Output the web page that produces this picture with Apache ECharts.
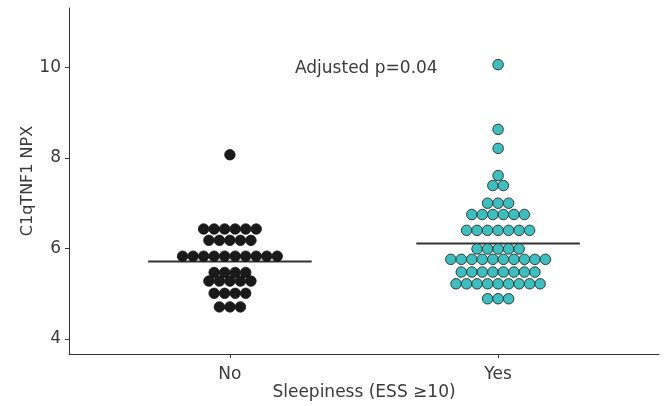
<!DOCTYPE html>
<html>
<head>
<meta charset="utf-8">
<script src="https://cdn.jsdelivr.net/npm/echarts@6/dist/echarts.min.js"></script>
<style>html,body{margin:0;padding:0;background:#fff}#c{width:667px;height:406px}</style>
</head>
<body>
<div id="c"></div>
<script>
var categories = ['No', 'Yes'];
var yTicks = [4, 6, 8, 10];
var noValues = [
  8.07,
  6.43, 6.43, 6.43, 6.43, 6.43, 6.43,
  6.18, 6.18, 6.18, 6.18, 6.18,
  5.83, 5.83, 5.83, 5.83, 5.83, 5.83, 5.83, 5.83, 5.83, 5.83,
  5.47, 5.47, 5.47, 5.47,
  5.28, 5.28, 5.28, 5.28, 5.28,
  5.01, 5.01, 5.01, 5.01,
  4.71, 4.71, 4.71
];
var yesValues = [
  10.06, 8.63, 8.21, 7.61,
  7.39, 7.39,
  7.00, 7.00, 7.00,
  6.75, 6.75, 6.75, 6.75, 6.75, 6.75,
  6.40, 6.40, 6.40, 6.40, 6.40, 6.40, 6.40,
  5.99, 5.99, 5.99, 5.99, 5.99,
  5.76, 5.76, 5.76, 5.76, 5.76, 5.76, 5.76, 5.76, 5.76, 5.76,
  5.48, 5.48, 5.48, 5.48, 5.48, 5.48, 5.48, 5.48,
  5.22, 5.22, 5.22, 5.22, 5.22, 5.22, 5.22, 5.22, 5.22,
  4.89, 4.89, 4.89
];
var summaryValues = [5.71, 6.11];
var annotation = 'Adjusted p=0.04';

// layout: centered stacking of equal values (dotplot)
var DOT_STEP = 0.0392;
function swarm(values, center) {
  var groups = {};
  values.forEach(function (v) { (groups[v] = groups[v] || []).push(v); });
  var out = [];
  Object.keys(groups).forEach(function (k) {
    var g = groups[k], n = g.length;
    g.forEach(function (v, i) { out.push([center + (i - (n - 1) / 2) * DOT_STEP, v]); });
  });
  return out;
}
var HALF = 0.305;
var textColor = '#3a3a3a';
var font = 'DejaVu Sans';

var chart = echarts.init(document.getElementById('c'), null, {renderer: 'canvas'});
chart.setOption({
  animation: false,
  grid: {left: 69, right: 8, top: 8, bottom: 52, containLabel: false},
  xAxis: {
    type: 'value', min: 0.4, max: 2.6,
    name: 'Sleepiness (ESS ≥10)', nameLocation: 'middle', nameGap: 30, nameMoveOverlap: false,
    nameTextStyle: {color: textColor, fontSize: 17, fontFamily: font},
    axisLine: {show: true, lineStyle: {color: '#333', width: 1}},
    axisTick: {show: true, length: 4, customValues: [1, 2], lineStyle: {color: '#333'}},
    axisLabel: {customValues: [1, 2], margin: 12, color: textColor, fontSize: 17, fontFamily: font,
      formatter: function (v) { return categories[Math.round(v) - 1]; }},
    splitLine: {show: false}
  },
  yAxis: {
    type: 'value', min: 3.67, max: 11.31,
    name: 'C1qTNF1 NPX', nameLocation: 'middle', nameGap: 33, nameRotate: 90, nameMoveOverlap: false,
    nameTextStyle: {color: textColor, fontSize: 16, fontFamily: font},
    axisLine: {show: true, lineStyle: {color: '#333', width: 1}},
    axisTick: {show: true, length: 4, customValues: yTicks, lineStyle: {color: '#333'}},
    axisLabel: {customValues: yTicks, margin: 8, color: textColor, fontSize: 17, fontFamily: font},
    splitLine: {show: false}
  },
  series: [
    {type: 'scatter', data: swarm(noValues, 1), symbolSize: 10.5,
      itemStyle: {color: '#1a1a1a', borderColor: '#111', borderWidth: 0.8, opacity: 1}, z: 3},
    {type: 'scatter', data: swarm(yesValues, 2), symbolSize: 10.5,
      itemStyle: {color: '#3dbfbf', borderColor: '#2b3a3a', borderWidth: 1, opacity: 1}, z: 3},
    {type: 'line', data: [[1 - HALF, summaryValues[0]], [1 + HALF, summaryValues[0]]], symbol: 'none',
      lineStyle: {color: '#333', width: 2}, z: 2},
    {type: 'line', data: [[2 - HALF, summaryValues[1]], [2 + HALF, summaryValues[1]]], symbol: 'none',
      lineStyle: {color: '#333', width: 2}, z: 2}
  ],
  graphic: [{
    type: 'text', left: 295, top: 60,
    style: {text: annotation, fill: textColor, fontSize: 17, fontFamily: font}
  }]
});
</script>
</body>
</html>
